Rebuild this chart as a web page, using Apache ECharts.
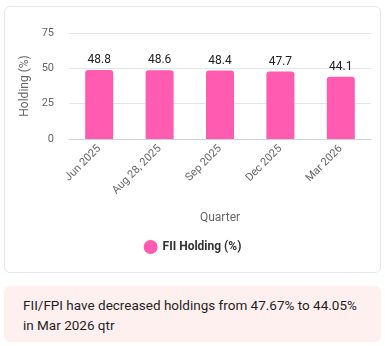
<!DOCTYPE html>
<html>
<head>
<meta charset="utf-8">
<script src="https://cdn.jsdelivr.net/npm/echarts@6/dist/echarts.min.js"></script>
<style>
  html, body { margin: 0; padding: 0; background: #ffffff; width: 385px; height: 346px; overflow: hidden; font-family: Roboto, "Noto Sans", sans-serif; }
  #card { position: absolute; left: 4px; top: 6px; width: 375px; height: 265px; border: 1px solid #e6e8ec; border-radius: 6px; background: #fff; }
  #chart { position: absolute; left: 0; top: 0; width: 385px; height: 275px; }
  #note { position: absolute; left: 4px; top: 286px; width: 377px; height: 56px; background: #fff0f0; border-radius: 6px; box-sizing: border-box; padding: 9px 18px 0 19px; font-size: 13.5px; line-height: 20px; color: #1f1f1f; }
</style>
</head>
<body>
<div id="card"></div>
<div id="chart"></div>
<div id="note">FII/FPI have decreased holdings from 47.67% to 44.05% in Mar 2026 qtr</div>
<script>
  // Quarterly FII holding figures
  const quarters = ['Jun 2025', 'Aug 28, 2025', 'Sep 2025', 'Dec 2025', 'Mar 2026'];
  const fiiHolding = [48.8, 48.6, 48.4, 47.7, 44.1];
  const seriesName = 'FII Holding (%)';

  const chart = echarts.init(document.getElementById('chart'), null, { renderer: 'canvas' });
  chart.setOption({
    animation: false,
    textStyle: { fontFamily: 'Roboto, "Noto Sans", sans-serif' },
    grid: { left: 69, right: 14, top: 33, bottom: 136 },
    legend: {
      data: [{ name: seriesName, icon: 'circle' }],
      bottom: 16,
      left: 'center',
      itemWidth: 14,
      itemHeight: 14,
      itemGap: 8,
      textStyle: { color: '#333', fontSize: 12, fontWeight: 'bold' }
    },
    xAxis: {
      type: 'category',
      data: quarters,
      name: 'Quarter',
      nameLocation: 'middle',
      nameGap: 73,
      nameTextStyle: { color: '#666', fontSize: 12 },
      axisLine: { lineStyle: { color: '#ccd3e0' } },
      axisTick: { show: false },
      axisLabel: { rotate: 45, color: '#666', fontSize: 11, margin: 8, interval: 0 }
    },
    yAxis: {
      type: 'value',
      min: 0,
      max: 75,
      interval: 25,
      name: 'Holding (%)',
      nameLocation: 'middle',
      nameGap: 34,
      nameTextStyle: { color: '#666', fontSize: 12 },
      axisLine: { show: false },
      axisTick: { show: false },
      axisLabel: { color: '#666', fontSize: 11, margin: 15 },
      splitLine: { lineStyle: { color: '#e4e6ea' } }
    },
    series: [{
      name: seriesName,
      type: 'bar',
      data: fiiHolding,
      barWidth: 28,
      itemStyle: { color: '#ff5bb0', borderRadius: [3, 3, 0, 0] },
      label: { show: true, position: 'top', distance: 4, color: '#222', fontSize: 12 }
    }]
  });
</script>
</body>
</html>
